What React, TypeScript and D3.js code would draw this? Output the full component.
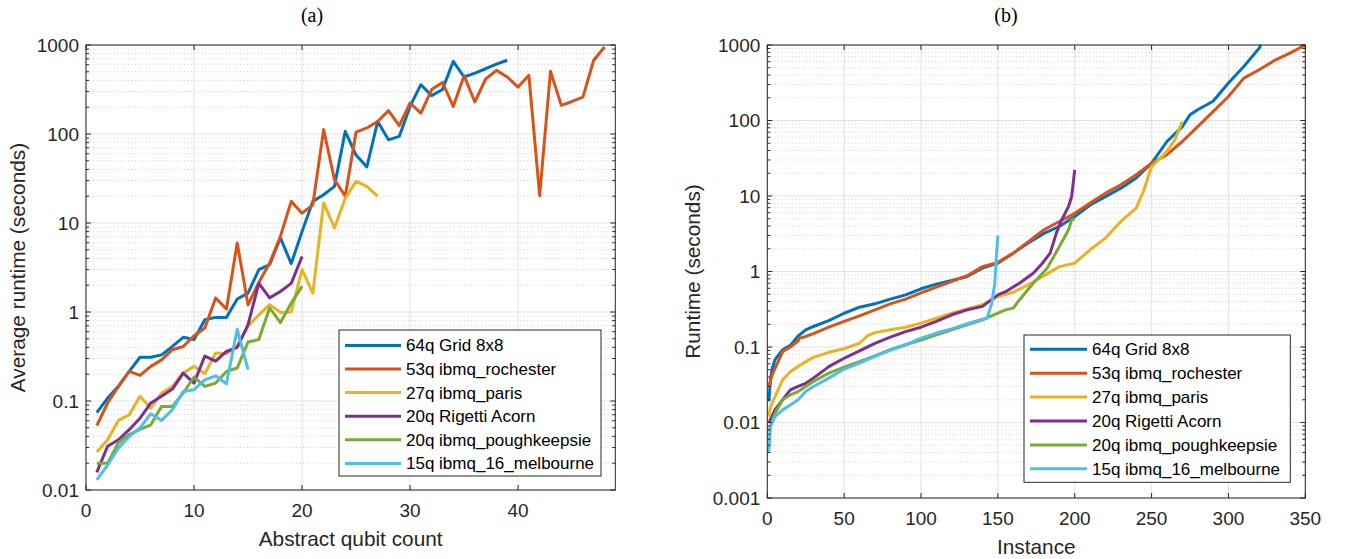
import React from "react";
import * as d3 from "d3";

// ---- data: (a) average runtime per abstract qubit count ----
const seriesNames = [
  "64q Grid 8x8",
  "53q ibmq_rochester",
  "27q ibmq_paris",
  "20q Rigetti Acorn",
  "20q ibmq_poughkeepsie",
  "15q ibmq_16_melbourne",
];
const colors = ["#0072BD", "#D95319", "#EDB120", "#7E2F8E", "#77AC30", "#4DBEEE"];

// values start at qubit count 1
const avgGrid = [0.074, 0.108, 0.146, 0.215, 0.31, 0.31, 0.33, 0.41, 0.52, 0.49, 0.82, 0.87, 0.87, 1.4, 1.63, 3.0, 3.4, 6.8, 3.5, 8.0, 17.5, 20.8, 25.8, 107, 58, 42.6, 138, 86, 94, 204, 358, 270, 316, 655, 437, 484, 541, 611, 674];
const avgRochester = [0.053, 0.095, 0.146, 0.215, 0.194, 0.245, 0.29, 0.377, 0.41, 0.54, 0.66, 1.44, 1.08, 5.96, 1.2, 2.15, 3.55, 7.1, 17.5, 12.9, 16, 112, 30.7, 20, 105, 117, 138, 183, 124, 223, 172, 316, 380, 204, 452, 229, 415, 519, 437, 337, 456, 20.3, 506, 210, 232, 260, 674, 950];
const avgParis = [0.0267, 0.0367, 0.0605, 0.07, 0.113, 0.083, 0.123, 0.146, 0.206, 0.245, 0.203, 0.346, 0.34, 0.41, 0.69, 0.93, 1.21, 0.99, 1.0, 3.0, 1.63, 16.8, 8.8, 19, 29.4, 25.8, 20];
const avgRigetti = [0.0158, 0.031, 0.0367, 0.0476, 0.064, 0.095, 0.113, 0.136, 0.206, 0.159, 0.32, 0.28, 0.36, 0.4, 0.72, 2.1, 1.44, 1.7, 2.1, 4.2];
const avgPough = [0.02, 0.02, 0.034, 0.042, 0.048, 0.054, 0.087, 0.087, 0.123, 0.186, 0.146, 0.159, 0.215, 0.235, 0.46, 0.49, 1.11, 0.76, 1.26, 1.94];
const avgMelb = [0.013, 0.019, 0.0296, 0.04, 0.05, 0.072, 0.0605, 0.08, 0.128, 0.134, 0.173, 0.192, 0.156, 0.64, 0.225];

// ---- data: (b) sorted runtime per instance ----
const instGrid = [1, 2, 3, 5, 10, 15, 20, 25, 30, 40, 50, 60, 70, 80, 90, 100, 110, 120, 130, 140, 150, 160, 170, 180, 190, 200, 210, 220, 230, 240, 250, 260, 270, 275, 280, 290, 300, 310, 320, 321];
const rtGrid = [0.019, 0.035, 0.05, 0.068, 0.092, 0.105, 0.14, 0.169, 0.187, 0.224, 0.28, 0.337, 0.373, 0.43, 0.49, 0.59, 0.68, 0.76, 0.86, 1.11, 1.29, 1.75, 2.4, 3.2, 3.95, 5.35, 7.6, 9.8, 12.7, 17.3, 27.3, 52.7, 83, 119, 139, 180, 313, 518, 910, 1000];
const instRochester = [1, 3, 5, 10, 15, 20, 21, 25, 30, 40, 50, 60, 70, 80, 90, 100, 110, 120, 130, 140, 150, 160, 170, 180, 190, 200, 210, 220, 230, 240, 250, 260, 270, 280, 290, 300, 310, 320, 330, 340, 350];
const rtRochester = [0.03, 0.042, 0.052, 0.087, 0.1, 0.12, 0.131, 0.138, 0.15, 0.183, 0.218, 0.259, 0.31, 0.373, 0.43, 0.52, 0.62, 0.74, 0.88, 1.16, 1.32, 1.75, 2.5, 3.57, 4.6, 5.9, 8.05, 10.9, 14.1, 19.1, 27.3, 35.2, 52.7, 83, 131, 208, 364, 470, 624, 780, 1000];
const instParis = [1, 2, 5, 10, 15, 20, 25, 30, 40, 50, 60, 65, 70, 80, 90, 100, 110, 120, 130, 140, 150, 160, 170, 180, 190, 200, 210, 220, 230, 240, 245, 250, 260, 265, 270];
const rtParis = [0.012, 0.016, 0.022, 0.037, 0.047, 0.055, 0.064, 0.073, 0.085, 0.095, 0.112, 0.14, 0.155, 0.169, 0.183, 0.207, 0.24, 0.28, 0.318, 0.362, 0.467, 0.53, 0.67, 0.88, 1.16, 1.29, 1.94, 2.77, 4.6, 6.9, 12, 24.6, 39, 55, 97];
const instRigetti = [1, 5, 10, 15, 20, 25, 30, 40, 50, 60, 70, 80, 90, 100, 110, 120, 130, 140, 150, 155, 164, 173, 179, 184, 188, 191, 196, 198, 200];
const rtRigetti = [0.0098, 0.0147, 0.02, 0.027, 0.03, 0.033, 0.0387, 0.055, 0.071, 0.089, 0.112, 0.135, 0.16, 0.183, 0.218, 0.267, 0.31, 0.345, 0.49, 0.54, 0.7, 0.95, 1.29, 1.75, 3.2, 4.6, 7.3, 9.85, 22.2];
const instPough = [1, 5, 10, 15, 20, 25, 30, 40, 50, 60, 70, 80, 90, 100, 110, 120, 130, 140, 150, 155, 160, 164, 173, 182, 190, 196, 198, 200];
const rtPough = [0.0076, 0.0133, 0.02, 0.0233, 0.0257, 0.03, 0.0349, 0.045, 0.054, 0.064, 0.076, 0.092, 0.107, 0.124, 0.145, 0.169, 0.197, 0.229, 0.28, 0.31, 0.327, 0.42, 0.7, 1.1, 2.14, 3.57, 4.84, 5.0];
const instMelb = [1, 2, 5, 10, 15, 20, 25, 30, 40, 50, 60, 70, 80, 90, 100, 110, 120, 130, 140, 143, 146, 148, 149, 150];
const rtMelb = [0.0041, 0.0089, 0.012, 0.0147, 0.0171, 0.02, 0.0257, 0.03, 0.0387, 0.051, 0.061, 0.075, 0.09, 0.107, 0.131, 0.153, 0.174, 0.203, 0.234, 0.24, 0.38, 0.7, 1.5, 3.0];

const xTicksA = [0, 10, 20, 30, 40];
const yTicksA = ["0.01", "0.1", "1", "10", "100", "1000"];
const xTicksB = [0, 50, 100, 150, 200, 250, 300, 350];
const yTicksB = ["0.001", "0.01", "0.1", "1", "10", "100", "1000"];

type Pt = [number, number];
const byCount = (vals: number[]): Pt[] => vals.map((v, i) => [i + 1, v]);
const zipXY = (xs: number[], ys: number[]): Pt[] => xs.map((x, i) => [x, ys[i]]);

const seriesA = [avgGrid, avgRochester, avgParis, avgRigetti, avgPough, avgMelb].map(byCount);
const seriesB = [
  zipXY(instGrid, rtGrid),
  zipXY(instRochester, rtRochester),
  zipXY(instParis, rtParis),
  zipXY(instRigetti, rtRigetti),
  zipXY(instPough, rtPough),
  zipXY(instMelb, rtMelb),
];

const FONT = "Arial, 'Liberation Sans', Helvetica, sans-serif";
const AX = "#262626";
const LW = 3;

type PanelProps = {
  left: number; right: number; top: number; bottom: number;
  xMax: number; xTicks: number[]; yTicks: string[];
  series: Pt[][]; title: string; titleX: number;
  xLabel: string; yLabel: string; yLabelX: number;
  legend: { x0: number; x1: number; y0: number; y1: number; first: number; step: number; l0: number; l1: number; tx: number };
};

function Panel(p: PanelProps) {
  const x = d3.scaleLinear().domain([0, p.xMax]).range([p.left, p.right]);
  const yMin = +p.yTicks[0];
  const yMax = +p.yTicks[p.yTicks.length - 1];
  const y = d3.scaleLog().domain([yMin, yMax]).range([p.bottom, p.top]);
  const line = d3.line<Pt>().x((d) => x(d[0])).y((d) => y(d[1]));

  // log minor ticks 2..9 in each decade
  const minor: number[] = [];
  p.yTicks.slice(0, -1).forEach((t) => {
    for (let k = 2; k <= 9; k++) minor.push(+t * k);
  });

  return (
    <g>
      <text x={p.titleX} y={22} textAnchor="middle" fontFamily="'Liberation Serif', 'DejaVu Serif', serif" fontSize={20} fill="#000">{p.title}</text>
      <rect x={p.left} y={p.top} width={p.right - p.left} height={p.bottom - p.top} fill="#fff" />
      {minor.map((m, i) => (
        <line key={"mg" + i} x1={p.left} x2={p.right} y1={y(m)} y2={y(m)} stroke={AX} strokeOpacity={0.28} strokeWidth={0.8} strokeDasharray="1 2.5" />
      ))}
      {p.yTicks.map((t) => (
        <line key={"gy" + t} x1={p.left} x2={p.right} y1={y(+t)} y2={y(+t)} stroke={AX} strokeOpacity={0.13} strokeWidth={1} />
      ))}
      {p.xTicks.map((t) => (
        <line key={"gx" + t} x1={x(t)} x2={x(t)} y1={p.top} y2={p.bottom} stroke={AX} strokeOpacity={0.13} strokeWidth={1} />
      ))}
      {p.series.map((s, i) => (
        <path key={"s" + i} d={line(s) || ""} fill="none" stroke={colors[i]} strokeWidth={LW} strokeLinejoin="round" />
      ))}
      <rect x={p.left} y={p.top} width={p.right - p.left} height={p.bottom - p.top} fill="none" stroke={AX} strokeWidth={1} />
      {p.xTicks.map((t) => (
        <g key={"tx" + t}>
          <line x1={x(t)} x2={x(t)} y1={p.bottom} y2={p.bottom - 5} stroke={AX} />
          <line x1={x(t)} x2={x(t)} y1={p.top} y2={p.top + 5} stroke={AX} />
          <text x={x(t)} y={p.bottom + 27} textAnchor="middle" fontFamily={FONT} fontSize={19} fill={AX}>{t}</text>
        </g>
      ))}
      {p.yTicks.map((t) => (
        <g key={"ty" + t}>
          <line x1={p.left} x2={p.left + 5} y1={y(+t)} y2={y(+t)} stroke={AX} />
          <line x1={p.right} x2={p.right - 5} y1={y(+t)} y2={y(+t)} stroke={AX} />
          <text x={p.left - 7} y={y(+t)} dy="0.35em" textAnchor="end" fontFamily={FONT} fontSize={19} fill={AX}>{t}</text>
        </g>
      ))}
      {minor.map((m, i) => (
        <g key={"mt" + i}>
          <line x1={p.left} x2={p.left + 3} y1={y(m)} y2={y(m)} stroke={AX} />
          <line x1={p.right} x2={p.right - 3} y1={y(m)} y2={y(m)} stroke={AX} />
        </g>
      ))}
      <text x={(p.left + p.right) / 2} y={p.bottom + 56} textAnchor="middle" fontFamily={FONT} fontSize={20.8} fill={AX}>{p.xLabel}</text>
      <text transform={`translate(${p.yLabelX},${(p.top + p.bottom) / 2}) rotate(-90)`} textAnchor="middle" fontFamily={FONT} fontSize={20.8} fill={AX}>{p.yLabel}</text>
      <rect x={p.legend.x0} y={p.legend.y0} width={p.legend.x1 - p.legend.x0} height={p.legend.y1 - p.legend.y0} fill="#fff" stroke={AX} strokeWidth={1} />
      {seriesNames.map((n, i) => {
        const ly = p.legend.first + i * p.legend.step;
        return (
          <g key={"lg" + i}>
            <line x1={p.legend.l0} x2={p.legend.l1} y1={ly} y2={ly} stroke={colors[i]} strokeWidth={LW} />
            <text x={p.legend.tx} y={ly} dy="0.35em" fontFamily={FONT} fontSize={17} fill="#000">{n}</text>
          </g>
        );
      })}
    </g>
  );
}

export default function App() {
  return (
    <svg width={1348} height={559} style={{ position: "absolute", left: 0, top: 0, background: "#fff" }}>
      <rect width={1348} height={559} fill="#fff" />
      <Panel
        left={86} right={615.3} top={45} bottom={490}
        xMax={49} xTicks={xTicksA} yTicks={yTicksA}
        series={seriesA} title="(a)" titleX={312}
        xLabel="Abstract qubit count" yLabel="Average runtime (seconds)" yLabelX={25}
        legend={{ x0: 339, x1: 601, y0: 330, y1: 476, first: 345.4, step: 23.6, l0: 345, l1: 401, tx: 406 }}
      />
      <Panel
        left={767.3} right={1305.3} top={45} bottom={498}
        xMax={350} xTicks={xTicksB} yTicks={yTicksB}
        series={seriesB} title="(b)" titleX={1006}
        xLabel="Instance" yLabel="Runtime (seconds)" yLabelX={700}
        legend={{ x0: 1024, x1: 1290.3, y0: 335, y1: 482.3, first: 349.3, step: 23.9, l0: 1030, l1: 1087, tx: 1092 }}
      />
    </svg>
  );
}
